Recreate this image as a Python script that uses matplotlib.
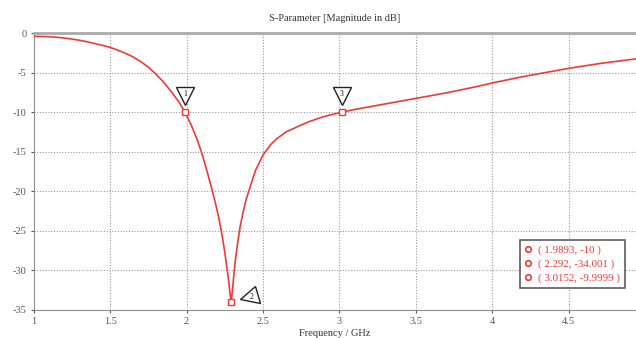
import matplotlib
matplotlib.use('Agg')
from matplotlib import pyplot as plt
from matplotlib.lines import Line2D
from matplotlib.markers import MarkerStyle
from matplotlib.transforms import Affine2D, ScaledTranslation

# S11 curve
freq = [1.0, 1.05, 1.1, 1.15, 1.2, 1.25, 1.3, 1.35, 1.4, 1.45, 1.5, 1.55,
        1.6, 1.65, 1.7, 1.75, 1.8, 1.85, 1.9, 1.95, 1.9893, 2.03, 2.07, 2.1,
        2.13, 2.16, 2.19, 2.21, 2.23, 2.25, 2.265, 2.275, 2.285, 2.292,
        2.3, 2.31, 2.32, 2.335, 2.35, 2.37, 2.39, 2.41, 2.45, 2.5, 2.55,
        2.59, 2.65, 2.74, 2.8, 2.89, 2.95, 3.0152, 3.1, 3.2, 3.3, 3.4, 3.5,
        3.6, 3.7, 3.8, 3.9, 4.0, 4.1, 4.2, 4.3, 4.4, 4.5, 4.6, 4.7, 4.8, 4.94]
s11 = [-0.4, -0.42, -0.45, -0.52, -0.62, -0.75, -0.9, -1.1, -1.32, -1.55, -1.8, -2.15,
       -2.55, -3.0, -3.6, -4.3, -5.2, -6.2, -7.4, -8.7, -10.0, -11.6, -13.5, -15.2,
       -17.2, -19.3, -21.6, -23.3, -25.3, -27.7, -29.8, -31.3, -33.0, -34.001,
       -32.6, -30.4, -28.6, -26.4, -24.5, -22.6, -21.0, -19.8, -17.4, -15.4, -14.1,
       -13.35, -12.5, -11.7, -11.2, -10.6, -10.3, -9.9999, -9.65, -9.3, -8.95, -8.6, -8.25,
       -7.9, -7.55, -7.15, -6.75, -6.3, -5.9, -5.5, -5.15, -4.8, -4.45, -4.15, -3.85, -3.6, -3.25]

mark_x = [1.9893, 2.292, 3.0152]
mark_y = [-10, -34.001, -9.9999]
mark_lbl = ['1', '2', '3']
leg_x = ['1.9893', '2.292', '3.0152']
leg_y = ['-10', '-34.001', '-9.9999']

serif = ['Liberation Serif', 'DejaVu Serif']
red = '#ee3a3a'
grey = '#909090'

fig = plt.figure(figsize=(6.36, 3.38), dpi=100)
ax = fig.add_axes([0.053, 0.083, 0.947, 0.819])

ax.plot(freq, s11, color=red, lw=1.2, zorder=3)
ax.plot(mark_x, mark_y, ls='none', marker='s', ms=4, mfc='white', mec=red,
        mew=1, zorder=4)

# marker flags
for x, y, t in zip(mark_x, mark_y, mark_lbl):
    if t == '2':
        dx, dy = 12.5, 3.5
        m = MarkerStyle('<', transform=Affine2D().rotate_deg(15))
    else:
        dx, dy = 0, 11.5
        m = MarkerStyle('v')
    off = ax.transData + ScaledTranslation(dx / 72, dy / 72, fig.dpi_scale_trans)
    ax.plot([x], [y], marker=m, ms=13, mfc='white', mec='#222222', mew=1,
            ls='none', zorder=5, transform=off)
    ax.annotate(t, (x, y), xytext=(dx + (2 if t == '2' else 0), dy + (0 if t == '2' else 1.5)),
                textcoords='offset points', ha='center', va='center',
                fontsize=5.5, family=serif, zorder=6)

ax.set_xlim(1, 4.94)
ax.set_ylim(-35, 0)
ax.set_xticks([1, 1.5, 2, 2.5, 3, 3.5, 4, 4.5])
ax.set_xticklabels(['1', '1.5', '2', '2.5', '3', '3.5', '4', '4.5'])
ax.set_yticks([0, -5, -10, -15, -20, -25, -30, -35])
ax.set_yticklabels(['0', '-5', '-10', '-15', '-20', '-25', '-30', '-35'])
ax.grid(True, ls=(0, (1, 1.5)), color='#9a9a9a', lw=0.8)
ax.tick_params(labelsize=7.5, colors='#555555', length=2, width=0.8, pad=3)
for lab in ax.get_xticklabels() + ax.get_yticklabels():
    lab.set_family(serif)

ax.spines['right'].set_visible(False)
ax.spines['left'].set_color(grey)
ax.spines['bottom'].set_color(grey)
ax.spines['top'].set_color('#aaaaaa')
ax.spines['top'].set_linewidth(2)

ax.set_title('S-Parameter [Magnitude in dB]', fontsize=7.5, family=serif,
             color='#333333', pad=9)
ax.set_xlabel('Frequency / GHz', fontsize=7.5, family=serif, color='#333333',
              labelpad=2)

handles = [Line2D([], [], ls='none', marker='o', ms=4, mfc='white', mec=red,
                  mew=1.2) for _ in mark_lbl]
labels = ['( %s, %s )' % (x, y) for x, y in zip(leg_x, leg_y)]
leg = ax.legend(handles, labels, loc='lower right', bbox_to_anchor=(0.99, 0.06),
                labelcolor=red, frameon=True, fancybox=False,
                edgecolor='#333333', handlelength=0.6, handletextpad=0.6,
                borderpad=0.45, labelspacing=0.4, prop={'family': serif, 'size': 7.8})
leg.get_frame().set_linewidth(1.2)

fig.savefig('out.png', dpi=100)
